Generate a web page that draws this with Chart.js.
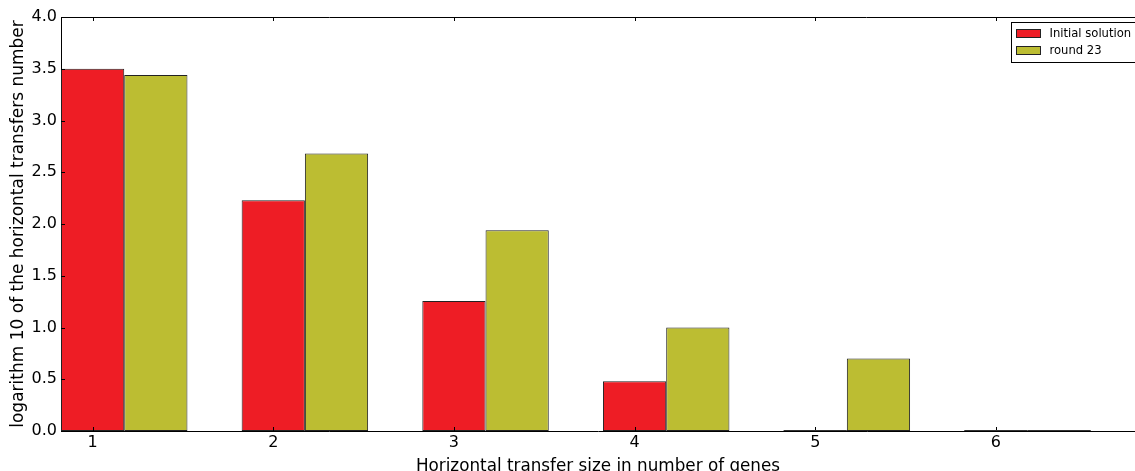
<!DOCTYPE html>
<html>
<head>
<meta charset="utf-8">
<script src="https://cdn.jsdelivr.net/npm/chart.js@4.4.1/dist/chart.umd.min.js"></script>
<style>
  html, body { margin: 0; padding: 0; background: #fff; }
  #wrap { width: 1135px; height: 471px; position: relative; overflow: hidden; }
</style>
</head>
<body>
<div id="wrap"><canvas id="hgtChart" width="1135" height="471"></canvas></div>
<script>
// --- Data ---
const sizes = [1, 2, 3, 4, 5, 6];
const initialLog = [3.50, 2.23, 1.255, 0.48, 0, 0];
const round23Log = [3.44, 2.68, 1.94, 1.0, 0.70, 0];
const yTicks = [0, 0.5, 1.0, 1.5, 2.0, 2.5, 3.0, 3.5, 4.0];
const seriesNames = ['Initial solution', 'round 23'];

const barWidth = 0.35;
const FONT = "'DejaVu Sans', sans-serif";

// matplotlib-like inward ticks, top spine and legend box
const mplFrame = {
    id: 'mplFrame',
    afterDraw(chart) {
        const ctx = chart.ctx;
        const area = chart.chartArea;
        const xs = chart.scales.x;
        const ys = chart.scales.y;
        ctx.save();
        ctx.strokeStyle = '#000';
        ctx.lineWidth = 1;
        ctx.beginPath();
        ctx.moveTo(area.left, area.top + 0.5);
        ctx.lineTo(area.right, area.top + 0.5);
        xs.ticks.forEach(t => {
            const px = Math.round(xs.getPixelForValue(t.value)) + 0.5;
            ctx.moveTo(px, area.top);
            ctx.lineTo(px, area.top + 4);
            ctx.moveTo(px, area.bottom);
            ctx.lineTo(px, area.bottom - 4);
        });
        ys.ticks.forEach(t => {
            const py = Math.round(ys.getPixelForValue(t.value)) + 0.5;
            ctx.moveTo(area.left, py);
            ctx.lineTo(area.left + 4, py);
        });
        ctx.stroke();

        // zero-height bars still show their edge in the original
        ctx.strokeStyle = '#333';
        chart.data.datasets.forEach((ds, di) => {
            chart.getDatasetMeta(di).data.forEach((bar, i) => {
                if (ds.data[i].y === 0) {
                    const p = bar.getProps(['x', 'width']);
                    ctx.beginPath();
                    ctx.moveTo(p.x - p.width / 2, area.bottom - 0.5);
                    ctx.lineTo(p.x + p.width / 2, area.bottom - 0.5);
                    ctx.stroke();
                }
            });
        });

        // legend
        const lx = 1011.5, ly = 22.5;
        ctx.strokeStyle = '#000';
        ctx.fillStyle = '#fff';
        ctx.fillRect(lx, ly, 140, 40);
        ctx.strokeRect(lx, ly, 140, 40);
        ctx.font = '11.6px ' + FONT;
        ctx.textBaseline = 'middle';
        chart.data.datasets.forEach((ds, i) => {
            const yy = ly + 11 + i * 17;
            ctx.fillStyle = ds.backgroundColor;
            ctx.fillRect(lx + 5, yy - 4, 24, 8);
            ctx.strokeStyle = '#222';
            ctx.strokeRect(lx + 5, yy - 4, 24, 8);
            ctx.fillStyle = '#000';
            ctx.fillText(ds.label, lx + 38, yy);
        });
        ctx.restore();
    }
};

const ctx = document.getElementById('hgtChart').getContext('2d');
new Chart(ctx, {
    type: 'bar',
    data: {
        datasets: [
            {
                label: seriesNames[0],
                data: sizes.map((s, i) => ({ x: s + barWidth / 2, y: initialLog[i] })),
                backgroundColor: '#ee1d25',
                borderColor: '#222',
                borderWidth: 1,
                borderSkipped: false
            },
            {
                label: seriesNames[1],
                data: sizes.map((s, i) => ({ x: s + barWidth / 2, y: round23Log[i] })),
                backgroundColor: '#bcbd32',
                borderColor: '#222',
                borderWidth: 1,
                borderSkipped: false
            }
        ]
    },
    plugins: [mplFrame],
    options: {
        responsive: false,
        animation: false,
        devicePixelRatio: 1,
        layout: { padding: { top: 17, right: 0, left: 0, bottom: 0 } },
        categoryPercentage: 0.7,
        barPercentage: 1.0,
        plugins: {
            legend: { display: false },
            tooltip: { enabled: false }
        },
        scales: {
            x: {
                type: 'linear',
                offset: false,
                min: 0.825,
                max: 6.77,
                afterFit(scale) { scale.height = 40; },
                afterBuildTicks(scale) {
                    scale.ticks = sizes.map(v => ({ value: v }));
                },
                ticks: {
                    autoSkip: false,
                    maxRotation: 0,
                    includeBounds: false,
                    padding: 2,
                    color: '#000',
                    font: { family: FONT, size: 16 },
                    callback: v => String(v)
                },
                grid: { display: false, drawTicks: false },
                border: { display: true, color: '#000', width: 1 },
                title: {
                    display: true,
                    text: 'Horizontal transfer size in number of genes',
                    color: '#000',
                    font: { family: FONT, size: 16.8 },
                    padding: { top: 0, bottom: -6 }
                }
            },
            y: {
                min: 0,
                max: 4,
                afterFit(scale) { scale.width = 61; },
                afterBuildTicks(scale) {
                    scale.ticks = yTicks.map(v => ({ value: v }));
                },
                ticks: {
                    autoSkip: false,
                    padding: 4,
                    color: '#000',
                    font: { family: FONT, size: 16 },
                    callback: v => v.toFixed(1)
                },
                grid: { display: false, drawTicks: false },
                border: { display: true, color: '#000', width: 1 },
                title: {
                    display: true,
                    text: 'logarithm 10 of the horizontal transfers number',
                    color: '#000',
                    font: { family: FONT, size: 17 },
                    padding: { top: 8, bottom: 0 }
                }
            }
        }
    }
});
</script>
</body>
</html>
